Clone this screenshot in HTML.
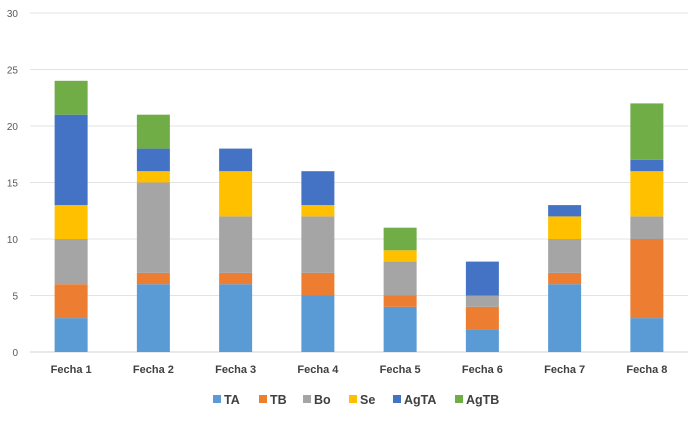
<!DOCTYPE html>
<html><head><meta charset="utf-8"><style>
body{margin:0;background:#fff;font-family:"Liberation Sans",sans-serif;}
svg text{font-family:"Liberation Sans",sans-serif;}
</style></head><body>
<svg id="c" width="700" height="426"></svg>
<script>
const categories=["Fecha 1","Fecha 2","Fecha 3","Fecha 4","Fecha 5","Fecha 6","Fecha 7","Fecha 8"];
const seriesNames=["TA","TB","Bo","Se","AgTA","AgTB"];
const TA=[3,6,6,5,4,2,6,3];
const TB=[3,1,1,2,1,2,1,7];
const Bo=[4,8,5,5,3,1,3,2];
const Se=[3,1,4,1,1,0,2,4];
const AgTA=[8,2,2,3,0,3,1,1];
const AgTB=[3,3,0,0,2,0,0,5];
const yTicks=[0,5,10,15,20,25,30];
const colors=["#5b9bd5","#ed7d31","#a5a5a5","#ffc000","#4472c4","#70ad47"];
const series=[TA,TB,Bo,Se,AgTA,AgTB];
const svg=document.getElementById('c');const NS="http://www.w3.org/2000/svg";
function mk(t,a,p){const e=document.createElementNS(NS,t);for(const k in a)e.setAttribute(k,a[k]);(p||svg).appendChild(e);return e;}
const x0=30,x1=688,y0=352,y1=13;
const y=v=>y0-(v/30)*(y0-y1);
const step=(x1-x0)/categories.length;
const xc=i=>x0+step*(i+0.5);
const bw=33;
yTicks.forEach(t=>{
 const l=mk('line',{x1:x0,x2:x1,y1:y(t),y2:y(t),stroke:t===0?'#d0d0d0':'#e3e3e3','stroke-width':1});
 
 
 const tx=mk('text',{x:18,y:y(t)+4,'text-anchor':'end','font-size':10,fill:'#595959'});tx.textContent=t;
 
 
});
categories.forEach((c,i)=>{
 let acc=0;
 series.forEach((s,j)=>{
  const v=s[i];if(v<=0)return;
  const r=mk('rect',{x:xc(i)-bw/2,y:y(acc+v),width:bw,height:y(acc)-y(acc+v),fill:colors[j]});
  
  
  acc+=v;
 });
 const t=mk('text',{x:xc(i),y:373,'text-anchor':'middle','font-size':11,'font-weight':'bold',fill:'#404040'});t.textContent=c;
 
 
});
const lx=[213,259,303,349,393,455];
seriesNames.forEach((n,j)=>{
 const g=mk('g',{});
 
 
 mk('rect',{x:lx[j],y:395,width:8,height:8,fill:colors[j]},g);
 const t=mk('text',{x:lx[j]+11,y:404,'font-size':12.5,'font-weight':'bold',fill:'#404040'},g);t.textContent=n;
});
</script>
</body></html>
